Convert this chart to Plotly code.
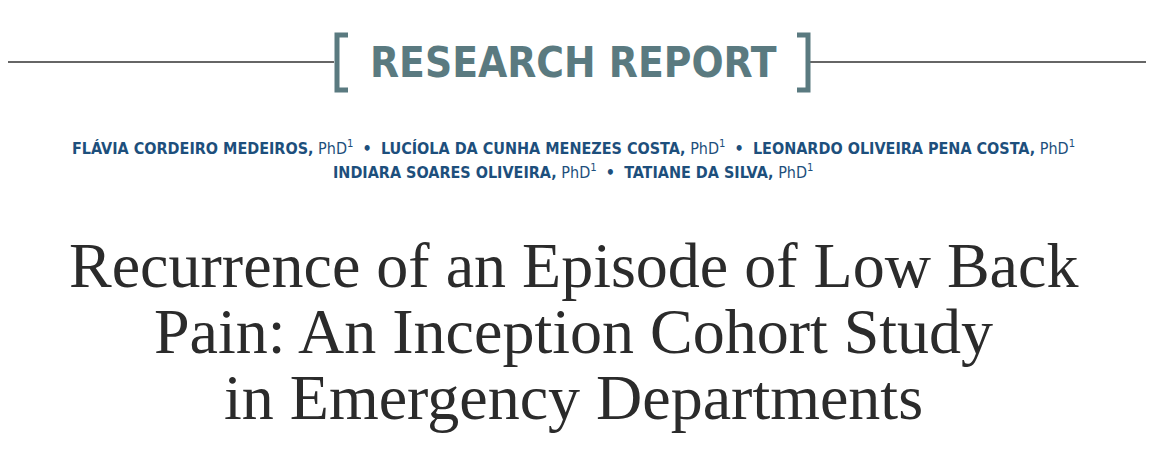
import plotly.graph_objects as go

section = "RESEARCH REPORT"
authors_line1 = ["FLÁVIA CORDEIRO MEDEIROS", "LUCÍOLA DA CUNHA MENEZES COSTA", "LEONARDO OLIVEIRA PENA COSTA"]
authors_line2 = ["INDIARA SOARES OLIVEIRA", "TATIANE DA SILVA"]
degree = "PhD"
title_lines = ["Recurrence of an Episode of Low Back", "Pain: An Inception Cohort Study", "in Emergency Departments"]

W, H = 1154, 461
OFF = 8
teal = "#5a7a80"
blue = "#1d4f7c"

def author_html(names):
    parts = [f"<b>{n},</b> <span style='font-weight:normal'>{degree}<sup>1</sup></span>" for n in names]
    return "  <b>•</b>  ".join(parts)

fig = go.Figure()
ann = []
ann.append(dict(x=573, y=62, text=f"<b>{section}</b>", font=dict(family="DejaVu Sans Condensed", size=42, color=teal)))
ann.append(dict(x=573, y=147, text=author_html(authors_line1), font=dict(family="DejaVu Sans Condensed", size=16, color=blue)))
ann.append(dict(x=573, y=171, text=author_html(authors_line2), font=dict(family="DejaVu Sans Condensed", size=16, color=blue)))
for i, t in enumerate(title_lines):
    ann.append(dict(x=573, y=265 + 66 * i, text=t, font=dict(family="Liberation Serif", size=64, color="#2b2b2b")))
for a in ann:
    a.update(xref="x", yref="y", showarrow=False, xanchor="center", yanchor="middle")

line = dict(color="#333", width=1.5)
br = dict(color=teal, width=5)
shapes = [
    dict(type="line", x0=OFF, x1=334, y0=62, y1=62, line=line),
    dict(type="line", x0=810, x1=W + OFF, y0=62, y1=62, line=line),
    dict(type="path", path="M 348 35 L 337 35 L 337 90 L 348 90", line=br),
    dict(type="path", path="M 797 35 L 808 35 L 808 90 L 797 90", line=br),
]
for s in shapes:
    s.update(xref="x", yref="y")

fig.update_layout(width=W, height=H, margin=dict(l=0, r=0, t=0, b=0),
                  paper_bgcolor="white", plot_bgcolor="white",
                  xaxis=dict(range=[OFF, W + OFF], visible=False, fixedrange=True),
                  yaxis=dict(range=[H + OFF, OFF], visible=False, fixedrange=True),
                  annotations=ann, shapes=shapes, showlegend=False)
fig.write_html("out.html")
